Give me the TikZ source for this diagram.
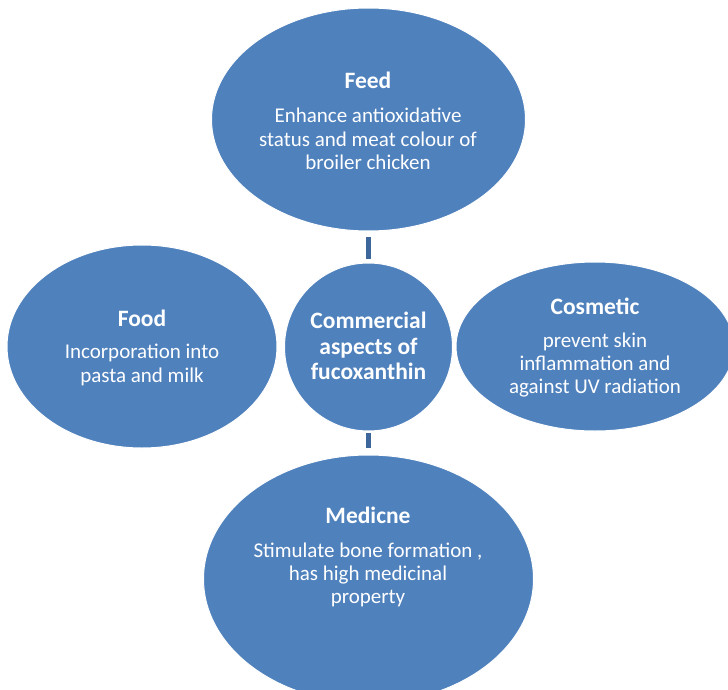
\documentclass[tikz,border=0pt]{standalone}
\usepackage{fontspec}
\setmainfont{Carlito}
\usetikzlibrary{shapes.geometric}
\definecolor{blobfill}{HTML}{4F81BD}
\definecolor{linkcol}{HTML}{3D679A}
\tikzset{
  blob/.style={ellipse, fill=blobfill, draw=white, line width=1pt, inner sep=0pt, outer sep=0pt},
  ttl/.style={text=white, font=\bfseries\fontsize{23.5}{25}\selectfont, align=center, inner sep=0pt},
  bdy/.style={text=white, font=\fontsize{21}{23.3}\selectfont, align=center, inner sep=0pt},
  link/.style={draw=linkcol, line width=5pt}
}
\begin{document}
\begin{tikzpicture}[x=1pt,y=-1pt]
\clip (0,0) rectangle (728,690);
\fill[white] (0,0) rectangle (728,690);
% ellipses
\node[blob, minimum width=314pt, minimum height=223pt] (feed) at (368.5,119.5) {};
\node[blob, minimum width=270pt, minimum height=203pt] (food) at (142,346.5) {};
\node[blob, minimum width=278pt, minimum height=169pt] (cosm) at (595,346.5) {};
\node[blob, minimum width=330pt, minimum height=248pt] (med) at (368.5,579) {};
\node[blob, circle, minimum size=168pt] (core) at (368.5,347) {};
% connectors
\draw[link, shorten <=6pt, shorten >=4pt] (feed.south) -- (core.north);
\draw[link, shorten <=2pt, shorten >=7pt] (core.south) -- (med.north);
% texts
\node[ttl] (feedt) at (368,80) {Feed};
\node[bdy] (feedb) at (368,139) {Enhance antioxidative\\status and meat colour of\\broiler chicken};
\node[ttl, font=\bfseries\fontsize{23.5}{25.5}\selectfont] (coret) at (368.5,346) {Commercial\\aspects of\\fucoxanthin};
\node[ttl] (foodt) at (142,318) {Food};
\node[bdy] (foodb) at (142,365) {Incorporation into\\pasta and milk};
\node[ttl] (cosmt) at (595,306) {Cosmetic};
\node[bdy] (cosmb) at (595,365) {prevent skin\\inflammation and\\against UV radiation};
\node[ttl] (medt) at (368,515) {Medicne};
\node[bdy] (medb) at (368,575) {Stimulate bone formation ,\\has high medicinal\\property};
\end{tikzpicture}
\end{document}
